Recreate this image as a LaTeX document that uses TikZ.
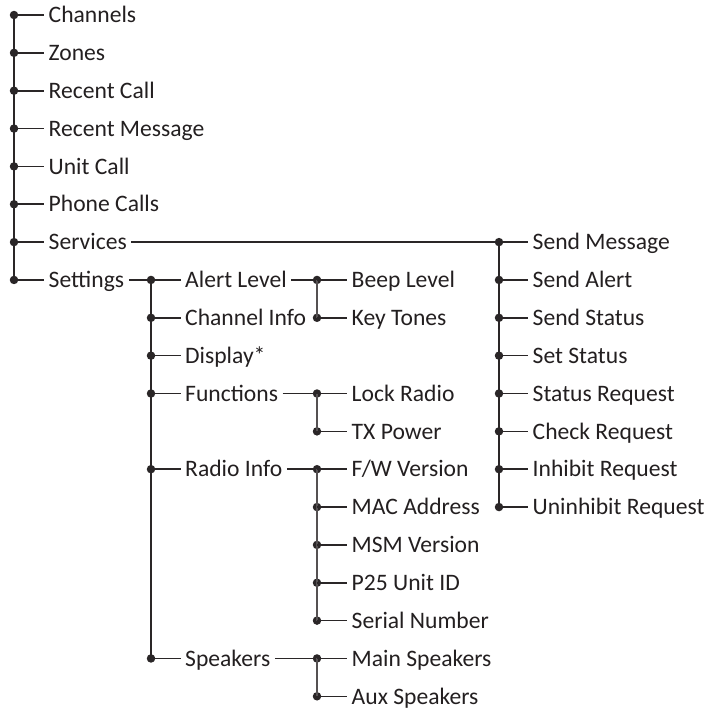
\documentclass[tikz,border=0pt]{standalone}
\usepackage{fontspec}
\setmainfont{Carlito}
\definecolor{txt}{HTML}{231F20}
\definecolor{lnc}{HTML}{2A2627}
\tikzset{
  lbl/.style={anchor=west, inner xsep=4.5pt, inner ysep=0pt, text height=15.4pt, text depth=0pt,
              font=\fontsize{23.6}{28}\selectfont, text=txt},
  dotc/.style={circle, fill=lnc, inner sep=0pt, minimum size=8.5pt},
  ln/.style={draw=lnc, line width=1.6pt},
  lng/.style={draw=lnc!80, line width=1.6pt}
}
\begin{document}
\begin{tikzpicture}[x=1pt,y=-1pt]
\useasboundingbox (0,0) rectangle (712,710);
% column 1
\node[dotc] (d1) at (14,15) {};      \node[lbl] (Channels) at (44,15) {Channels};
\node[dotc] (d2) at (14,52.85) {};   \node[lbl] (Zones) at (44,52.85) {Zones};
\node[dotc] (d3) at (14,90.7) {};    \node[lbl] (RecentCall) at (44,90.7) {Recent Call};
\node[dotc] (d4) at (14,128.55) {};  \node[lbl] (RecentMessage) at (44,128.55) {Recent Message};
\node[dotc] (d5) at (14,166.4) {};   \node[lbl] (UnitCall) at (44,166.4) {Unit Call};
\node[dotc] (d6) at (14,204.25) {};  \node[lbl] (PhoneCalls) at (44,204.25) {Phone Calls};
\node[dotc] (d7) at (14,242.1) {};   \node[lbl] (Services) at (44,242.1) {Services};
\node[dotc] (d8) at (14,279.95) {};  \node[lbl] (Settings) at (44,279.95) {Settings};
\draw[ln] (d1.center) -- (d8.center);
\foreach \a/\b in {d1/Channels,d2/Zones,d3/RecentCall,d4/RecentMessage,d5/UnitCall,d6/PhoneCalls,d7/Services,d8/Settings}
  \draw[ln] (\a.center) -- (\b.west);
% column 2 (Settings)
\node[dotc] (s1) at (151,279.95) {};  \node[lbl] (AlertLevel) at (180.5,279.95) {Alert Level};
\node[dotc] (s2) at (151,317.8) {};   \node[lbl] (ChannelInfo) at (180.5,317.8) {Channel Info};
\node[dotc] (s3) at (151,355.65) {};  \node[lbl] (Display) at (180.5,355.65) {Display*};
\node[dotc] (s4) at (151,393.5) {};   \node[lbl] (Functions) at (180.5,393.5) {Functions};
\node[dotc] (s5) at (151,469.2) {};   \node[lbl] (RadioInfo) at (180.5,469.2) {Radio Info};
\node[dotc] (s6) at (151,658.45) {};  \node[lbl] (Speakers) at (180.5,658.45) {Speakers};
\draw[ln] (Settings.east) -- (s1.center);
\draw[ln] (s1.center) -- (s6.center);
\foreach \a/\b in {s1/AlertLevel,s2/ChannelInfo,s3/Display,s4/Functions,s5/RadioInfo,s6/Speakers}
  \draw[ln] (\a.center) -- (\b.west);
% column 3: Alert Level
\node[dotc] (a1) at (317,279.95) {};  \node[lbl] (BeepLevel) at (347,279.95) {Beep Level};
\node[dotc] (a2) at (317,317.8) {};   \node[lbl] (KeyTones) at (347,317.8) {Key Tones};
\draw[ln] (AlertLevel.east) -- (a1.center);
\draw[lng] (a1.center) -- (a2.center);
\draw[ln] (a1.center) -- (BeepLevel.west);
\draw[ln] (a2.center) -- (KeyTones.west);
% column 3: Functions
\node[dotc] (f1) at (317,393.5) {};   \node[lbl] (LockRadio) at (347,393.5) {Lock Radio};
\node[dotc] (f2) at (317,431.35) {};  \node[lbl] (TXPower) at (347,431.35) {TX Power};
\draw[ln] (Functions.east) -- (f1.center);
\draw[lng] (f1.center) -- (f2.center);
\draw[ln] (f1.center) -- (LockRadio.west);
\draw[ln] (f2.center) -- (TXPower.west);
% column 3: Radio Info
\node[dotc] (r1) at (317,469.2) {};   \node[lbl] (FWVersion) at (347,469.2) {F/W Version};
\node[dotc] (r2) at (317,507.05) {};  \node[lbl] (MACAddress) at (347,507.05) {MAC Address};
\node[dotc] (r3) at (317,544.9) {};   \node[lbl] (MSMVersion) at (347,544.9) {MSM Version};
\node[dotc] (r4) at (317,582.75) {};  \node[lbl] (P25UnitID) at (347,582.75) {P25 Unit ID};
\node[dotc] (r5) at (317,620.6) {};   \node[lbl] (SerialNumber) at (347,620.6) {Serial Number};
\draw[ln] (RadioInfo.east) -- (r1.center);
\draw[lng] (r1.center) -- (r5.center);
\foreach \a/\b in {r1/FWVersion,r2/MACAddress,r3/MSMVersion,r4/P25UnitID,r5/SerialNumber}
  \draw[ln] (\a.center) -- (\b.west);
% column 3: Speakers
\node[dotc] (k1) at (317,658.45) {};  \node[lbl] (MainSpeakers) at (347,658.45) {Main Speakers};
\node[dotc] (k2) at (317,696.3) {};   \node[lbl] (AuxSpeakers) at (347,696.3) {Aux Speakers};
\draw[ln] (Speakers.east) -- (k1.center);
\draw[lng] (k1.center) -- (k2.center);
\draw[ln] (k1.center) -- (MainSpeakers.west);
\draw[ln] (k2.center) -- (AuxSpeakers.west);
% column 4: Services
\node[dotc] (v1) at (499,242.1) {};   \node[lbl] (SendMessage) at (528,242.1) {Send Message};
\node[dotc] (v2) at (499,279.95) {};  \node[lbl] (SendAlert) at (528,279.95) {Send Alert};
\node[dotc] (v3) at (499,317.8) {};   \node[lbl] (SendStatus) at (528,317.8) {Send Status};
\node[dotc] (v4) at (499,355.65) {};  \node[lbl] (SetStatus) at (528,355.65) {Set Status};
\node[dotc] (v5) at (499,393.5) {};   \node[lbl] (StatusRequest) at (528,393.5) {Status Request};
\node[dotc] (v6) at (499,431.35) {};  \node[lbl] (CheckRequest) at (528,431.35) {Check Request};
\node[dotc] (v7) at (499,469.2) {};   \node[lbl] (InhibitRequest) at (528,469.2) {Inhibit Request};
\node[dotc] (v8) at (499,507.05) {};  \node[lbl] (UninhibitRequest) at (528,507.05) {Uninhibit Request};
\draw[ln] (Services.east) -- (v1.center);
\draw[ln] (v1.center) -- (v8.center);
\foreach \a/\b in {v1/SendMessage,v2/SendAlert,v3/SendStatus,v4/SetStatus,v5/StatusRequest,v6/CheckRequest,v7/InhibitRequest,v8/UninhibitRequest}
  \draw[ln] (\a.center) -- (\b.west);
\end{tikzpicture}
\end{document}
